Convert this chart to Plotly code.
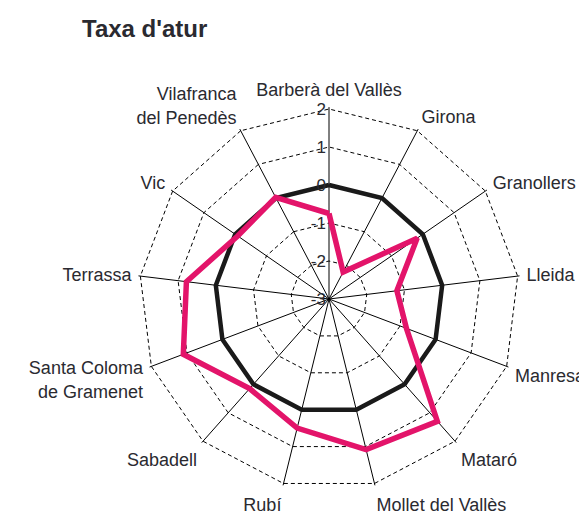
import plotly.graph_objects as go

categories = ["Barberà del Vallès", "Girona", "Granollers", "Lleida", "Manresa",
              "Mataró", "Mollet del Vallès", "Rubí", "Sabadell",
              "Santa Coloma<br>de Gramenet", "Terrassa", "Vic",
              "Vilafranca<br>del Penedès"]
city_values = [-0.75, -2.2, -0.18, -1.2, -0.82, 1.3, 1.08, 0.5, 0.15, 1.1, 0.78, -0.08, 0.02]
reference_values = [0, 0, 0, 0, 0, 0, 0, 0, 0, 0, 0, 0, 0]
tick_values = [-3, -2, -1, 0, 1, 2]
tick_labels = ["-3", "-2", "-1", "0", "1", "2"]
r_min, r_max = -3, 2

FONT = "Liberation Sans, Arial, sans-serif"
TXT = "#2a2a30"

# page body has an 8px margin: figure is sized to fit the window
W, H = 579, 511
OFF = 8

def closed(a):
    return list(a) + [a[0]]

fig = go.Figure()
fig.add_trace(go.Scatterpolar(
    r=closed(reference_values), theta=closed(categories), mode="lines",
    line=dict(color="#1a1a1a", width=4.5), hoverinfo="skip", showlegend=False))
fig.add_trace(go.Scatterpolar(
    r=closed(city_values), theta=closed(categories), mode="lines",
    line=dict(color="#e3146a", width=5.5), showlegend=False))

# extend the range slightly so the outer (dashed) ring at r_max is drawn
ext = 0.05
cx, cy = 329 - OFF, 299 - OFF
R = 190 * (r_max + ext - r_min) / (r_max - r_min)

fig.update_layout(
    width=W, height=H,
    margin=dict(l=0, r=0, t=0, b=0),
    paper_bgcolor="white",
    title=dict(text="<b>Taxa d'atur</b>", x=(82 - OFF) / W, xanchor="left", xref="paper",
               y=1 - (29 - OFF) / H, yanchor="middle", yref="paper",
               font=dict(family=FONT, size=24, color=TXT)),
    polar=dict(
        domain=dict(x=[(cx - R) / W, (cx + R) / W], y=[1 - (cy + R) / H, 1 - (cy - R) / H]),
        gridshape="linear",
        bgcolor="white",
        radialaxis=dict(range=[r_min, r_max + ext], tickvals=tick_values, ticktext=tick_labels,
                        angle=90, side="counterclockwise", tickangle=90,
                        showline=False,
                        gridcolor="black", griddash="4px,3px", gridwidth=1,
                        ticks="", tickfont=dict(family=FONT, size=17, color=TXT)),
        angularaxis=dict(direction="clockwise", rotation=90,
                         gridcolor="black", gridwidth=1,
                         showline=False,
                         ticks="outside", ticklen=3, tickcolor="rgba(0,0,0,0)",
                         tickfont=dict(family=FONT, size=18, color=TXT)),
    ),
)

fig.write_html("out.html")
